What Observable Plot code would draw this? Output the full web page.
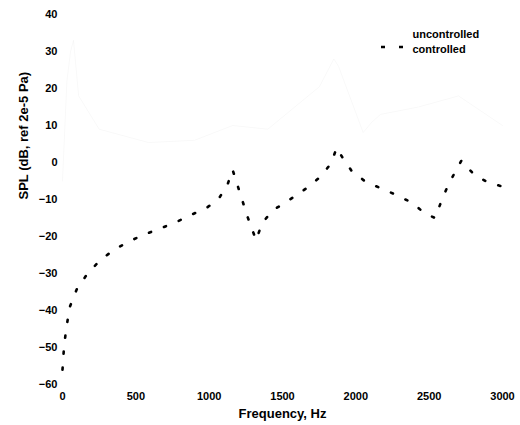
<!DOCTYPE html>
<html>
<head>
<meta charset="utf-8">
<script src="https://cdn.jsdelivr.net/npm/d3@7"></script>
<script src="https://cdn.jsdelivr.net/npm/@observablehq/plot@0.6"></script>
<style>
  html, body { margin: 0; padding: 0; background: #fff; }
  #chart { width: 520px; height: 425px; }
</style>
</head>
<body>
<div id="chart"></div>
<script>
// Frequency (Hz) and SPL (dB)
const controlledFreq = [0, 10, 25, 50, 100, 175, 260, 355, 450, 555, 655, 770, 880, 985, 1065, 1125, 1160, 1200, 1260, 1320, 1360, 1430, 1500, 1570, 1670, 1760, 1830, 1870, 1905, 1970, 2060, 2160, 2260, 2390, 2470, 2540, 2580, 2625, 2675, 2720, 2800, 2900, 3000];
const controlledSPL  = [-56, -50, -45, -39, -34, -29.8, -26.3, -23.5, -21.4, -19.5, -18, -16.2, -14.1, -12.2, -9.8, -6, -2, -7, -14.5, -21, -16.5, -13, -11.3, -9.5, -6.8, -3.8, -0.3, 4, 1.6, -2.2, -5, -6.8, -8.5, -11, -13.8, -15, -10.8, -6.5, -2.7, 0.5, -3, -5.4, -6.5];

// Uncontrolled trace is almost lost in the reference; values estimated from the visible fragments
const uncontrolledFreq = [0, 30, 55, 75, 110, 250, 586, 900, 1160, 1400, 1752, 1850, 1882, 2050, 2107, 2168, 2427, 2700, 3000];
const uncontrolledSPL  = [-5, 22, 30, 33, 18, 9, 5.4, 6, 10, 9, 20.5, 28, 26, 8.1, 10.8, 13, 15, 18, 10];

const xTicks = [0, 500, 1000, 1500, 2000, 2500, 3000];
const yTicks = [-60, -50, -40, -30, -20, -10, 0, 10, 20, 30, 40];
const legendLabels = ["uncontrolled", "controlled"];

const controlled = controlledFreq.map((f, i) => ({f, spl: controlledSPL[i]}));
const uncontrolled = uncontrolledFreq.map((f, i) => ({f, spl: uncontrolledSPL[i]}));

const FONT = "Liberation Sans, Arial, sans-serif";

const chart = Plot.plot({
  width: 520,
  height: 425,
  marginLeft: 62,
  marginRight: 18,
  marginTop: 14,
  marginBottom: 41,
  style: { fontFamily: FONT, fontSize: "11px", fontWeight: "bold", background: "#fff", color: "#000" },
  x: { domain: [0, 3000], ticks: xTicks, tickFormat: d3.format("d"), tickSize: 0, tickPadding: 8, label: null },
  y: { domain: [-60, 40], ticks: yTicks, tickFormat: d3.format("d"), tickSize: 0, tickPadding: 5, label: null },
  marks: [
    Plot.line(uncontrolled, { x: "f", y: "spl", stroke: "#000", strokeOpacity: 0.05, strokeWidth: 0.6 }),
    Plot.line(controlled, { x: "f", y: "spl", stroke: "#000", strokeWidth: 2.6, strokeDasharray: "2.2,13.8" }),
    Plot.text(["Frequency, Hz"], { text: d => d, frameAnchor: "bottom", dy: 33, fontSize: 13, fontWeight: "bold" }),
    Plot.text(["SPL (dB, ref 2e-5 Pa)"], { text: d => d, frameAnchor: "left", dx: -39, rotate: -90, fontSize: 13, fontWeight: "bold" }),
    Plot.text([legendLabels[0]], { text: d => d, frameAnchor: "top-right", textAnchor: "start", dx: -90, dy: 16, fontSize: 11, fontWeight: "bold" }),
    Plot.text([legendLabels[1]], { text: d => d, frameAnchor: "top-right", textAnchor: "start", dx: -90, dy: 31, fontSize: 11, fontWeight: "bold" })
  ]
});

// legend line sample for "controlled"
const svg = d3.select(chart);
svg.append("line")
  .attr("x1", 381).attr("x2", 404).attr("y1", 47).attr("y2", 47)
  .attr("stroke", "#000").attr("stroke-width", 2.4).attr("stroke-dasharray", "4,14");

document.getElementById("chart").appendChild(chart);
</script>
</body>
</html>
